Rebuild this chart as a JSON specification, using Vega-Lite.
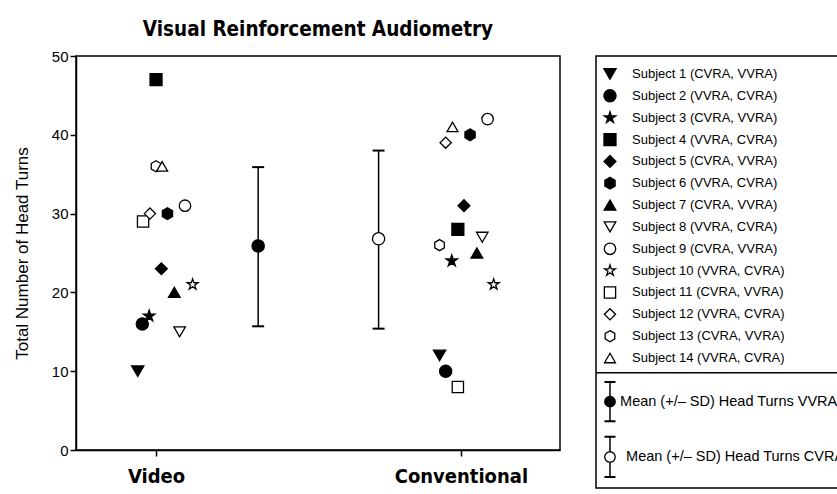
{
  "$schema": "https://vega.github.io/schema/vega-lite/v6.json",
  "padding": {"left": 12, "top": 18, "right": 0, "bottom": 0},
  "background": "white",
  "spacing": 33,
  "config": {
    "view": {"stroke": "black", "strokeWidth": 1.5},
    "font": "Liberation Sans"
  },
  "datasets": {
    "subjects": [
      {"sid": "1", "cond": "Video", "pos": 0.76, "turns": 10},
      {"sid": "2", "cond": "Video", "pos": 0.82, "turns": 16},
      {"sid": "3", "cond": "Video", "pos": 0.91, "turns": 17},
      {"sid": "4", "cond": "Video", "pos": 1.0, "turns": 47},
      {"sid": "5", "cond": "Video", "pos": 1.07, "turns": 23},
      {"sid": "6", "cond": "Video", "pos": 1.15, "turns": 30},
      {"sid": "7", "cond": "Video", "pos": 1.24, "turns": 20},
      {"sid": "8", "cond": "Video", "pos": 1.31, "turns": 15},
      {"sid": "9", "cond": "Video", "pos": 1.38, "turns": 31},
      {"sid": "10", "cond": "Video", "pos": 1.48, "turns": 21},
      {"sid": "11", "cond": "Video", "pos": 0.83, "turns": 29},
      {"sid": "12", "cond": "Video", "pos": 0.92, "turns": 30},
      {"sid": "13", "cond": "Video", "pos": 1.0, "turns": 36},
      {"sid": "14", "cond": "Video", "pos": 1.08, "turns": 36},
      {"sid": "1", "cond": "Conventional", "pos": 4.72, "turns": 12},
      {"sid": "2", "cond": "Conventional", "pos": 4.8, "turns": 10},
      {"sid": "3", "cond": "Conventional", "pos": 4.88, "turns": 24},
      {"sid": "4", "cond": "Conventional", "pos": 4.96, "turns": 28},
      {"sid": "5", "cond": "Conventional", "pos": 5.04, "turns": 31},
      {"sid": "6", "cond": "Conventional", "pos": 5.12, "turns": 40},
      {"sid": "7", "cond": "Conventional", "pos": 5.21, "turns": 25},
      {"sid": "8", "cond": "Conventional", "pos": 5.28, "turns": 27},
      {"sid": "9", "cond": "Conventional", "pos": 5.35, "turns": 42},
      {"sid": "10", "cond": "Conventional", "pos": 5.43, "turns": 21},
      {"sid": "11", "cond": "Conventional", "pos": 4.96, "turns": 8},
      {"sid": "12", "cond": "Conventional", "pos": 4.8, "turns": 39},
      {"sid": "13", "cond": "Conventional", "pos": 4.72, "turns": 26},
      {"sid": "14", "cond": "Conventional", "pos": 4.89, "turns": 41}
    ],
    "means": [
      {"cond": "VVRA", "pos": 2.34, "mean": 25.9, "lo": 15.7, "hi": 35.9},
      {"cond": "CVRA", "pos": 3.92, "mean": 26.8, "lo": 15.4, "hi": 38.0}
    ],
    "legendRows": [
      {"sid": "1", "row": 1, "label": "Subject 1 (CVRA, VVRA)"},
      {"sid": "2", "row": 2, "label": "Subject 2 (VVRA, CVRA)"},
      {"sid": "3", "row": 3, "label": "Subject 3 (CVRA, VVRA)"},
      {"sid": "4", "row": 4, "label": "Subject 4 (VVRA, CVRA)"},
      {"sid": "5", "row": 5, "label": "Subject 5 (CVRA, VVRA)"},
      {"sid": "6", "row": 6, "label": "Subject 6 (VVRA, CVRA)"},
      {"sid": "7", "row": 7, "label": "Subject 7 (CVRA, VVRA)"},
      {"sid": "8", "row": 8, "label": "Subject 8 (VVRA, CVRA)"},
      {"sid": "9", "row": 9, "label": "Subject 9 (CVRA, VVRA)"},
      {"sid": "10", "row": 10, "label": "Subject 10 (VVRA, CVRA)"},
      {"sid": "11", "row": 11, "label": "Subject 11 (CVRA, VVRA)"},
      {"sid": "12", "row": 12, "label": "Subject 12 (VVRA, CVRA)"},
      {"sid": "13", "row": 13, "label": "Subject 13 (CVRA, VVRA)"},
      {"sid": "14", "row": 14, "label": "Subject 14 (VVRA, CVRA)"}
    ],
    "legendMeans": [
      {"cond": "VVRA", "row": 16.0, "lo": 15.1, "hi": 16.9, "label": "Mean (+/\u2013 SD) Head Turns VVRA"},
      {"cond": "CVRA", "row": 18.53, "lo": 17.6, "hi": 19.45, "label": "Mean (+/\u2013 SD) Head Turns CVRA"}
    ]
  },
  "hconcat": [
    {
      "width": 484,
      "height": 394,
      "title": {"text": "Visual Reinforcement Audiometry", "font": "DejaVu Sans Condensed", "fontSize": 20.5, "fontWeight": "bold", "color": "black", "offset": 9},
      "layer": [
        {
          "data": {"name": "subjects"},
          "mark": {"type": "point", "filled": true, "stroke": "black", "strokeWidth": 1.3, "opacity": 1},
          "encoding": {
            "x": {"field": "pos", "type": "quantitative", "scale": {"domain": [-0.05, 6.3], "nice": false, "zero": false},
              "axis": {"values": [1, 5], "labelExpr": "datum.value == 1 ? 'Video' : 'Conventional'", "title": null, "grid": false, "tickSize": 6, "tickColor": "black", "tickWidth": 1.5, "domainColor": "black", "domainWidth": 1.5, "labelFont": "DejaVu Sans Condensed", "labelFontWeight": "bold", "labelFontSize": 20, "labelColor": "black", "labelPadding": 10}},
            "y": {"field": "turns", "type": "quantitative", "scale": {"domain": [0, 50], "nice": false},
              "axis": {"values": [0, 10, 20, 30, 40, 50], "title": "Total Number of Head Turns", "titleFont": "Liberation Sans", "titleFontSize": 17, "titleFontWeight": "normal", "titleColor": "black", "titlePadding": 20, "labelFont": "Liberation Sans", "labelFontSize": 15, "labelColor": "black", "labelPadding": 2, "grid": false, "tickSize": 6, "tickColor": "black", "tickWidth": 1.5, "domainColor": "black", "domainWidth": 1.5}},
            "shape": {"field": "sid", "type": "nominal", "legend": null,
              "scale": {"domain": ["1","2","3","4","5","6","7","8","9","10","11","12","13","14"],
                "range": ["triangle-down", "circle", "M0,-1L0.2245,-0.309L0.951,-0.309L0.363,0.118L0.588,0.809L0,0.382L-0.588,0.809L-0.363,0.118L-0.951,-0.309L-0.2245,-0.309Z", "square", "diamond", "M0,-1L0.866,-0.5L0.866,0.5L0,1L-0.866,0.5L-0.866,-0.5Z", "triangle-up", "triangle-down", "circle", "M0,-1L0.2245,-0.309L0.951,-0.309L0.363,0.118L0.588,0.809L0,0.382L-0.588,0.809L-0.363,0.118L-0.951,-0.309L-0.2245,-0.309Z", "square", "diamond", "M0,-1L0.866,-0.5L0.866,0.5L0,1L-0.866,0.5L-0.866,-0.5Z", "triangle-up"]}},
            "fill": {"field": "sid", "type": "nominal", "legend": null,
              "scale": {"domain": ["1","2","3","4","5","6","7","8","9","10","11","12","13","14"],
                "range": ["black","black","black","black","black","black","black","white","white","white","white","white","white","white"]}},
            "size": {"field": "sid", "type": "nominal", "legend": null,
              "scale": {"domain": ["1","2","3","4","5","6","7","8","9","10","11","12","13","14"],
                "range": [150, 120, 120, 128, 160, 150, 150, 150, 120, 190, 128, 160, 170, 150]}}
          }
        },
        {
          "data": {"name": "means"},
          "mark": {"type": "rule", "color": "black", "strokeWidth": 1.5},
          "encoding": {
            "x": {"field": "pos", "type": "quantitative"},
            "y": {"field": "lo", "type": "quantitative"},
            "y2": {"field": "hi"}
          }
        },
        {
          "data": {"name": "means"},
          "mark": {"type": "tick", "orient": "horizontal", "color": "black", "size": 12, "thickness": 2, "opacity": 1},
          "encoding": {
            "x": {"field": "pos", "type": "quantitative"},
            "y": {"field": "lo", "type": "quantitative"}
          }
        },
        {
          "data": {"name": "means"},
          "mark": {"type": "tick", "orient": "horizontal", "color": "black", "size": 12, "thickness": 2, "opacity": 1},
          "encoding": {
            "x": {"field": "pos", "type": "quantitative"},
            "y": {"field": "hi", "type": "quantitative"}
          }
        },
        {
          "data": {"name": "means"},
          "transform": [{"filter": "datum.cond == 'VVRA'"}],
          "mark": {"type": "point", "shape": "circle", "filled": true, "fill": "black", "stroke": "black", "strokeWidth": 1.3, "size": 150, "opacity": 1},
          "encoding": {
            "x": {"field": "pos", "type": "quantitative"},
            "y": {"field": "mean", "type": "quantitative"}
          }
        },
        {
          "data": {"name": "means"},
          "transform": [{"filter": "datum.cond == 'CVRA'"}],
          "mark": {"type": "point", "shape": "circle", "filled": true, "fill": "white", "stroke": "black", "strokeWidth": 1.3, "size": 150, "opacity": 1},
          "encoding": {
            "x": {"field": "pos", "type": "quantitative"},
            "y": {"field": "mean", "type": "quantitative"}
          }
        }
      ]
    },
    {
      "width": 243,
      "height": 432,
      "title": {"text": " ", "font": "DejaVu Sans Condensed", "fontSize": 20.5, "fontWeight": "bold", "color": "black", "offset": 9},
      "layer": [
        {
          "data": {"name": "legendRows"},
          "mark": {"type": "point", "filled": true, "stroke": "black", "strokeWidth": 1.3, "opacity": 1},
          "encoding": {
            "x": {"datum": 1, "type": "quantitative", "scale": {"domain": [0.417, 10.542], "nice": false, "zero": false}, "axis": null},
            "y": {"field": "row", "type": "quantitative", "scale": {"domain": [0.176, 19.95], "reverse": true, "nice": false, "zero": false}, "axis": null},
            "shape": {"field": "sid", "type": "nominal", "legend": null,
              "scale": {"domain": ["1","2","3","4","5","6","7","8","9","10","11","12","13","14"],
                "range": ["triangle-down", "circle", "M0,-1L0.2245,-0.309L0.951,-0.309L0.363,0.118L0.588,0.809L0,0.382L-0.588,0.809L-0.363,0.118L-0.951,-0.309L-0.2245,-0.309Z", "square", "diamond", "M0,-1L0.866,-0.5L0.866,0.5L0,1L-0.866,0.5L-0.866,-0.5Z", "triangle-up", "triangle-down", "circle", "M0,-1L0.2245,-0.309L0.951,-0.309L0.363,0.118L0.588,0.809L0,0.382L-0.588,0.809L-0.363,0.118L-0.951,-0.309L-0.2245,-0.309Z", "square", "diamond", "M0,-1L0.866,-0.5L0.866,0.5L0,1L-0.866,0.5L-0.866,-0.5Z", "triangle-up"]}},
            "fill": {"field": "sid", "type": "nominal", "legend": null,
              "scale": {"domain": ["1","2","3","4","5","6","7","8","9","10","11","12","13","14"],
                "range": ["black","black","black","black","black","black","black","white","white","white","white","white","white","white"]}},
            "size": {"field": "sid", "type": "nominal", "legend": null,
              "scale": {"domain": ["1","2","3","4","5","6","7","8","9","10","11","12","13","14"],
                "range": [150, 120, 120, 128, 160, 150, 150, 150, 120, 190, 128, 160, 170, 150]}}
          }
        },
        {
          "data": {"name": "legendRows"},
          "mark": {"type": "text", "align": "left", "baseline": "middle", "font": "Liberation Sans", "fontSize": 13, "color": "black", "clip": true},
          "encoding": {
            "x": {"datum": 1.92, "type": "quantitative"},
            "y": {"field": "row", "type": "quantitative"},
            "text": {"field": "label"}
          }
        },
        {
          "data": {"values": [{"part": "divider"}]},
          "mark": {"type": "rule", "color": "black", "strokeWidth": 1.5},
          "encoding": {
            "y": {"datum": 14.68, "type": "quantitative"}
          }
        },
        {
          "data": {"name": "legendMeans"},
          "mark": {"type": "rule", "color": "black", "strokeWidth": 1.5},
          "encoding": {
            "x": {"datum": 1, "type": "quantitative"},
            "y": {"field": "lo", "type": "quantitative"},
            "y2": {"field": "hi"}
          }
        },
        {
          "data": {"name": "legendMeans"},
          "mark": {"type": "tick", "orient": "horizontal", "color": "black", "size": 11, "thickness": 2, "opacity": 1},
          "encoding": {
            "x": {"datum": 1, "type": "quantitative"},
            "y": {"field": "lo", "type": "quantitative"}
          }
        },
        {
          "data": {"name": "legendMeans"},
          "mark": {"type": "tick", "orient": "horizontal", "color": "black", "size": 11, "thickness": 2, "opacity": 1},
          "encoding": {
            "x": {"datum": 1, "type": "quantitative"},
            "y": {"field": "hi", "type": "quantitative"}
          }
        },
        {
          "data": {"name": "legendMeans"},
          "transform": [{"filter": "datum.cond == 'VVRA'"}],
          "mark": {"type": "point", "shape": "circle", "filled": true, "fill": "black", "stroke": "black", "strokeWidth": 1.3, "size": 110, "opacity": 1},
          "encoding": {
            "x": {"datum": 1, "type": "quantitative"},
            "y": {"field": "row", "type": "quantitative"}
          }
        },
        {
          "data": {"name": "legendMeans"},
          "transform": [{"filter": "datum.cond == 'CVRA'"}],
          "mark": {"type": "point", "shape": "circle", "filled": true, "fill": "white", "stroke": "black", "strokeWidth": 1.3, "size": 110, "opacity": 1},
          "encoding": {
            "x": {"datum": 1, "type": "quantitative"},
            "y": {"field": "row", "type": "quantitative"}
          }
        },
        {
          "data": {"name": "legendMeans"},
          "transform": [{"filter": "datum.cond == 'VVRA'"}],
          "mark": {"type": "text", "align": "left", "baseline": "middle", "font": "Liberation Sans", "fontSize": 14.5, "color": "black", "clip": true},
          "encoding": {
            "x": {"datum": 1.42, "type": "quantitative"},
            "y": {"field": "row", "type": "quantitative"},
            "text": {"field": "label"}
          }
        },
        {
          "data": {"name": "legendMeans"},
          "transform": [{"filter": "datum.cond == 'CVRA'"}],
          "mark": {"type": "text", "align": "left", "baseline": "middle", "font": "Liberation Sans", "fontSize": 14.5, "color": "black", "clip": true},
          "encoding": {
            "x": {"datum": 1.67, "type": "quantitative"},
            "y": {"field": "row", "type": "quantitative"},
            "text": {"field": "label"}
          }
        }
      ]
    }
  ]
}
